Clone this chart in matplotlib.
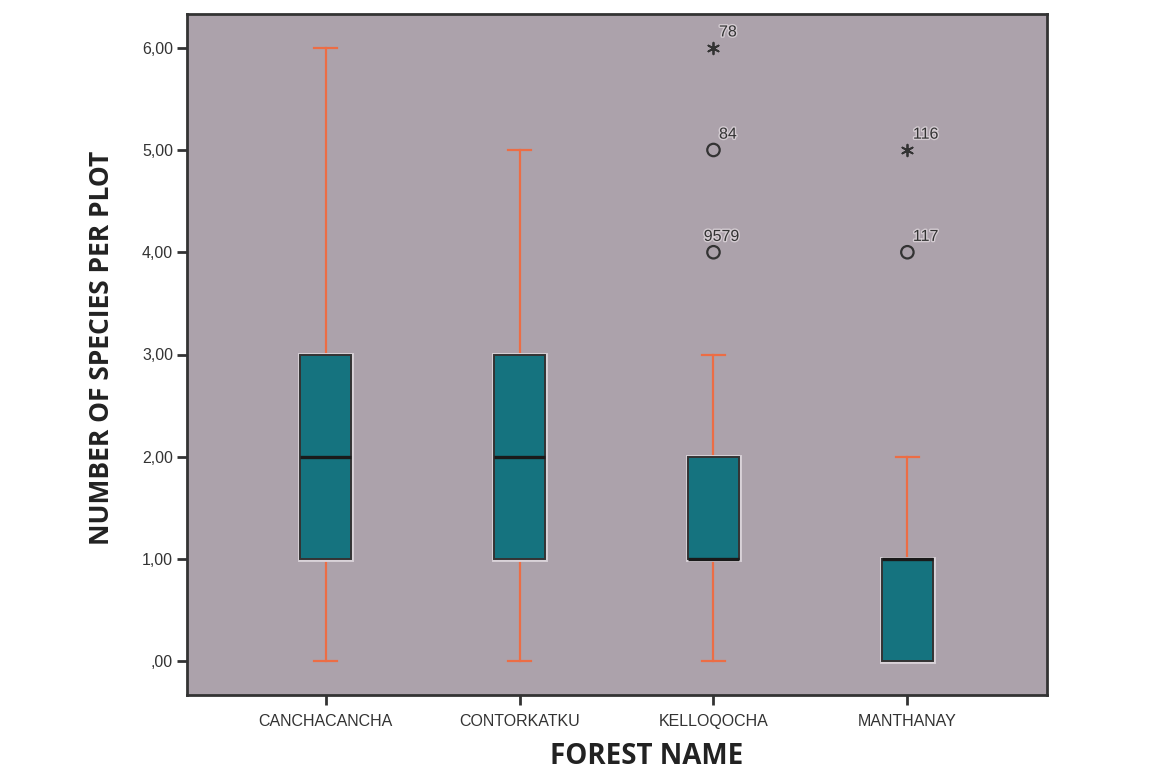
import matplotlib
matplotlib.use("Agg")
import matplotlib.pyplot as plt
import matplotlib.patheffects as pe

CATEGORIES = ["CANCHACANCHA", "CONTORKATKU", "KELLOQOCHA", "MANTHANAY"]
Q1 = [1.0, 1.0, 1.0, 0.0]
MEDIAN = [2.0, 2.0, 1.0, 1.0]
Q3 = [3.0, 3.0, 2.0, 1.0]
WHIS_LO = [0.0, 0.0, 0.0, 0.0]
WHIS_HI = [6.0, 5.0, 3.0, 2.0]

# outliers (circle) and extremes (asterisk): category index, value, case label
OUTLIER_CAT = [2, 2, 3]
OUTLIER_VAL = [5.0, 4.0, 4.0]
OUTLIER_LAB = ["84", "9579", "117"]
EXTREME_CAT = [2, 3]
EXTREME_VAL = [6.0, 5.0]
EXTREME_LAB = ["78", "116"]

Y_TICKS = [0, 1, 2, 3, 4, 5, 6]
Y_TICKLABELS = [",00", "1,00", "2,00", "3,00", "4,00", "5,00", "6,00"]

BG = "#aca2ab"
BOX = "#15737f"
WHISK = "#ec6d45"
DARK = "#333333"

fig = plt.figure(figsize=(11.54, 7.75), dpi=100)
ax = fig.add_axes([187 / 1154, 1 - 695 / 775, 860 / 1154, 681 / 775])
ax.set_facecolor(BG)

stats = []
for i in range(len(CATEGORIES)):
    stats.append({
        "q1": Q1[i], "med": MEDIAN[i], "q3": Q3[i],
        "whislo": WHIS_LO[i], "whishi": WHIS_HI[i], "fliers": [],
    })

halo = [pe.Stroke(linewidth=3.5, foreground="#d9d2d8"), pe.Normal()]
bp = ax.bxp(
    stats, positions=range(len(CATEGORIES)), widths=0.26, patch_artist=True,
    showfliers=False,
    boxprops=dict(facecolor=BOX, edgecolor=DARK, linewidth=1.4),
    medianprops=dict(color="#1a1a1a", linewidth=2.4),
    whiskerprops=dict(color=WHISK, linewidth=1.6),
    capprops=dict(color=WHISK, linewidth=1.6),
    capwidths=0.12,
)
for b in bp["boxes"]:
    b.set_path_effects(halo)
    b.set_zorder(3)
for m in bp["medians"]:
    m.set_zorder(4)

ax.scatter(OUTLIER_CAT, OUTLIER_VAL, s=80, facecolors="none", edgecolors=DARK,
           linewidths=1.6, zorder=5)
ax.scatter(EXTREME_CAT, EXTREME_VAL, s=70, marker=(6, 2, 0), color=DARK,
           linewidths=1.3, zorder=5)

lab_fx = [pe.withStroke(linewidth=2, foreground="#d4ccd2")]
for c, v, lab in zip(OUTLIER_CAT, OUTLIER_VAL, OUTLIER_LAB):
    dx = -7 if lab == "9579" else 4
    ax.annotate(lab, (c, v), xytext=(dx, 6), textcoords="offset points",
                fontsize=11.5, color=DARK, family="Liberation Sans",
                va="bottom", path_effects=lab_fx)
for c, v, lab in zip(EXTREME_CAT, EXTREME_VAL, EXTREME_LAB):
    ax.annotate(lab, (c, v), xytext=(4, 6), textcoords="offset points",
                fontsize=11.5, color=DARK, family="Liberation Sans",
                va="bottom", path_effects=lab_fx)

ax.set_xlim(-0.715, 3.72)
ax.set_ylim(-0.33, 6.33)
ax.set_yticks(Y_TICKS)
ax.set_yticklabels(Y_TICKLABELS)
ax.set_xticks(range(len(CATEGORIES)))
ax.set_xticklabels(CATEGORIES)
ax.tick_params(axis="both", length=7, width=2, color=DARK, labelcolor=DARK,
               labelsize=11.5)
ax.tick_params(axis="x", pad=7)
ax.tick_params(axis="y", pad=3)
for lbl in ax.get_xticklabels() + ax.get_yticklabels():
    lbl.set_family("Liberation Sans")

for s in ax.spines.values():
    s.set_color(DARK)
    s.set_linewidth(2)

fig.text(102 / 1154, 1 - 348 / 775, "NUMBER OF SPECIES PER PLOT", rotation=90,
         ha="center", va="center", fontsize=19, fontweight="bold",
         family="Open Sans", color="#222222")
fig.text(647 / 1154, 1 - 771 / 775, "FOREST NAME", ha="center", va="bottom",
         fontsize=20, fontweight="bold", family="Open Sans", color="#222222")

fig.savefig("out.png", dpi=100)
